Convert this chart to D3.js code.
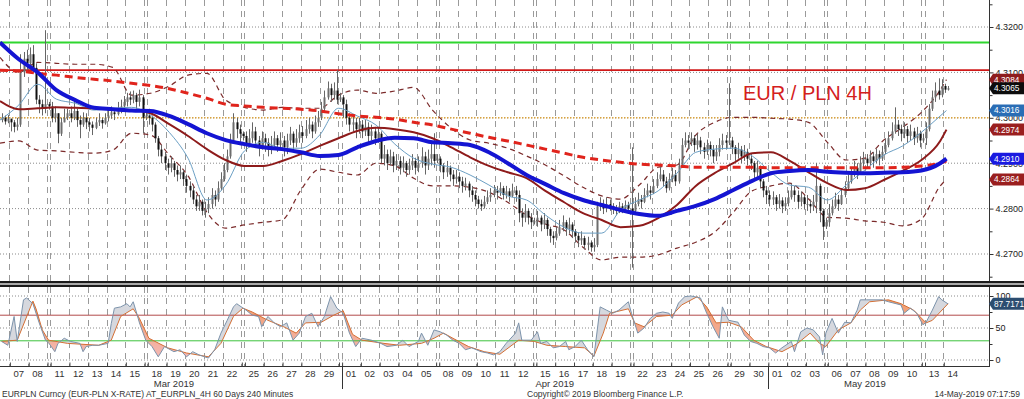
<!DOCTYPE html>
<html>
<head>
<meta charset="utf-8">
<script src="https://cdn.jsdelivr.net/npm/d3@7"></script>
<style>
body { margin: 0; background: #fff; }
svg { display: block; font-family: "Liberation Sans", Arial, sans-serif; }
</style>
</head>
<body>
<svg width="1024" height="399"></svg>
<script>
/* DATA */
// trading days shown (first one only partly visible)
var days = ["2019-03-06","2019-03-07","2019-03-08","2019-03-11","2019-03-12","2019-03-13","2019-03-14","2019-03-15",
	"2019-03-18","2019-03-19","2019-03-20","2019-03-21","2019-03-22","2019-03-25","2019-03-26","2019-03-27","2019-03-28","2019-03-29",
	"2019-04-01","2019-04-02","2019-04-03","2019-04-04","2019-04-05","2019-04-08","2019-04-09","2019-04-10","2019-04-11","2019-04-12",
	"2019-04-15","2019-04-16","2019-04-17","2019-04-18","2019-04-19","2019-04-22","2019-04-23","2019-04-24","2019-04-25","2019-04-26",
	"2019-04-29","2019-04-30","2019-05-01","2019-05-02","2019-05-03","2019-05-06","2019-05-07","2019-05-08","2019-05-09","2019-05-10",
	"2019-05-13","2019-05-14"];
var monthLabels = ["Mar 2019", "Apr 2019", "May 2019"];

// 4H candles, prices in pips above 4.2700 (one line per day, the Sunday bar on its own)
var base = 4.27;
var open0 = 295;
var closes = [300,292,298,
	290,280,285,400,430,420, 440,410,340,330,320,330, 325,
	300,310,265,290,300,310, 300,315,295,285,300,290, 285,278,290,295,288,300, 305,312,308,320,325,335, 345,340,350,335,345,300, 305,
	300,285,255,230,215,200, 190,200,185,175,180,165, 150,140,120,105,115,95, 100,110,130,120,145,165, 185,215,250,290,275,265, 260,
	240,255,270,250,235,255, 245,230,240,255,240,250, 235,250,265,245,255,268, 260,275,285,270,290,300, 320,345,365,350,360,340, 345,
	330,300,285,290,275,285, 270,280,260,270,255,265, 210,220,200,215,195,205, 190,200,185,195,205,190, 200,215,195,210,220,205, 210,
	195,180,190,175,165,170, 160,150,155,140,130,120, 110,105,115,125,130,140, 135,145,130,138,128,140, 130,90,80,95,80,70, 72,
	80,65,75,55,40,35, 45,60,70,55,65,50, 40,30,35,20,25,15, 20,105,110,100,110,105, 100,95,105,100,108,100, 95,
	110,120,115,130,140,135, 150,165,175,160,145,165, 175,160,195,240,250,245, 255,240,250,235,225,240, 230,215,225,240,250,245, 250,
	235,220,230,215,225,210, 200,180,190,160,140,130, 120,125,110,118,105,112, 125,140,130,115,125,110, 110,105,115,150,95,60, 70,
	90,105,120,110,130,145, 160,175,190,180,200,210, 200,215,205,220,210,225, 240,255,270,285,275,265, 275,260,270,255,265,250, 255,
	275,320,345,360,350,370, 362,365];
var highs = [310,305,306,
	298,295,300,440,445,450, 455,460,420,350,340,493, 335,
	335,325,310,300,320,320, 325,335,320,305,312,310, 300,292,300,310,300,310, 318,325,320,335,340,348, 355,358,360,355,362,350, 315,
	320,305,290,260,240,225, 210,215,205,195,195,185, 175,160,150,130,130,120, 115,125,145,140,160,180, 200,230,265,310,300,285, 270,
	270,275,290,280,260,270, 265,255,260,270,262,268, 260,265,280,270,275,285, 282,295,300,292,305,315, 335,360,380,375,378,405, 355,
	350,340,310,305,300,300, 295,295,290,285,280,280, 270,240,230,230,225,220, 215,215,205,210,220,212, 215,235,225,230,245,266, 220,
	215,200,205,195,185,185, 180,170,168,160,150,140, 128,120,128,140,145,152, 150,158,150,150,145,155, 150,140,100,110,100,90, 80,
	95,85,90,80,60,50, 60,75,85,75,80,70, 55,48,50,40,38,30, 35,115,125,120,125,120, 112,108,115,112,118,115, 235,
	125,135,130,145,155,150, 165,180,195,185,170,178, 190,185,210,255,268,262, 268,262,265,258,245,252, 248,240,240,255,265,262, 376,
	258,240,245,238,240,232, 220,205,205,195,165,150, 140,138,130,132,125,125, 140,155,150,140,138,130, 130,120,130,200,155,100, 80,
	110,120,135,130,145,160, 175,190,205,200,215,225, 220,228,225,232,228,238, 255,270,290,323,295,285, 290,282,285,278,280,272, 265,
	290,330,360,378,387,385, 375,370];
var lows = [290,285,288,
	270,268,272,280,390,405, 415,400,330,310,305,310, 318,
	290,290,244,260,290,295, 290,295,280,255,280,275, 270,262,275,282,276,285, 292,298,295,305,310,318, 325,328,332,320,325,266, 295,
	285,270,245,215,200,185, 175,180,170,160,165,150, 135,125,110,95,95,85, 80,90,100,105,115,140, 160,180,210,245,255,240, 250,
	225,235,245,235,215,230, 225,215,220,230,225,232, 215,220,240,225,235,245, 245,255,265,255,265,280, 295,315,340,335,340,330, 335,
	300,285,270,270,255,265, 255,260,245,250,240,245, 200,195,185,195,180,185, 175,180,170,175,185,175, 180,190,175,185,195,190, 200,
	180,165,170,160,150,155, 145,135,140,125,115,105, 100,95,100,110,115,125, 120,128,120,122,115,125, 115,70,60,70,65,55, 65,
	60,50,55,40,25,20, 30,40,50,40,45,35, 25,15,20,10,8,5, 5,15,95,88,92,95, 88,85,90,90,95,90, -30,
	90,105,100,112,125,120, 132,145,160,150,135,140, 158,150,155,190,235,230, 238,225,230,220,210,218, 215,200,205,215,230,230, 240,
	220,205,210,200,205,195, 185,165,170,145,125,110, 105,108,95,100,90,95, 105,120,115,100,105,98, 95,90,95,90,70,31, 55,
	60,85,100,95,108,125, 140,155,170,165,180,190, 188,195,190,200,195,205, 220,235,250,265,260,248, 255,245,250,240,245,235, 245,
	240,270,315,335,340,345, 355,360];

// indicator lines sampled every 6 bars (last point on the final bar), pips above 4.2700
var maBlue = [466,429,400,361,339,322,319,316,315,304,286,266,251,242,235,231,224,216,218,235,249,256,255,246,244,240,
	224,200,174,154,134,119,108,97,88,84,95,106,121,141,161,178,183,185,181,179,178,179,180,184,200,210];
var maRedDash = [405,403,398,394,389,385,381,376,371,364,354,343,330,326,323,321,319,315,309,304,301,297,290,284,275,266,
	257,249,240,231,222,213,207,202,198,196,194,191,191,191,191,190,190,190,190,190,190,190,191,194,200,205];
var maMaroon = [337,319,321,323,322,321,319,317,310,286,260,231,207,194,194,205,220,238,255,271,278,275,268,255,235,213,
	194,180,167,139,114,90,75,59,62,79,108,150,178,200,222,224,205,180,156,141,145,163,183,207,249,274];
var maFast = [295,328,374,341,332,317,321,323,306,268,211,119,152,227,246,233,233,262,321,304,284,242,211,198,191,174,
	152,128,119,86,59,46,46,97,119,139,178,224,231,233,216,180,152,147,119,152,185,218,238,268,304,316];
var bandUpper = [433,400,422,420,418,418,411,350,354,370,394,398,339,323,317,323,321,321,350,361,354,359,367,317,277,251,
	244,233,216,196,172,147,128,121,152,191,196,262,290,301,301,299,297,290,246,207,211,251,279,312,361,384];
var bandLower = [244,249,229,227,224,222,229,266,262,218,172,92,57,64,70,75,141,187,180,174,200,194,167,150,150,147,
	136,114,86,66,53,15,-13,-7,-7,-2,13,26,48,92,139,150,156,121,81,79,73,70,62,77,150,164];

// horizontal levels
var levelGreen = 4.3166, levelRed = 4.3105, levelOrange = 4.3000;

// stochastic [bar, value]
var stochK = [[0,29],[2,23],[4,68],[5,29],[7,94],[8,97],[10,88],[12,58],[14,31],[15,27],[17,13],[18,26],[20,34],[22,29],
	[25,26],[26,13],[27,21],[29,23],[31,23],[34,26],[35,57],[36,81],[38,83],[40,88],[41,83],[42,91],[43,75],[44,58],[46,31],
	[48,21],[50,5],[52,21],[55,13],[57,16],[59,5],[61,13],[63,8],[66,3],[68,16],[70,42],[72,62],[74,83],[75,88],[78,78],
	[80,70],[82,68],[83,52],[85,68],[87,58],[89,52],[91,58],[93,31],[95,42],[97,68],[99,73],[101,52],[103,68],[105,99],
	[107,81],[109,73],[111,42],[113,21],[115,34],[118,31],[121,26],[123,21],[126,23],[128,31],[130,21],[133,29],[134,42],
	[136,23],[138,47],[140,44],[142,39],[144,31],[146,26],[148,16],[150,19],[153,13],[155,11],[157,8],[159,13],[161,26],
	[164,42],[165,58],[166,31],[169,31],[171,44],[172,26],[174,29],[176,19],[178,21],[180,29],[181,16],[183,21],[185,31],
	[187,16],[189,5],[191,83],[193,78],[195,73],[197,78],[200,91],[201,73],[203,42],[205,50],[207,65],[209,73],[211,75],
	[213,73],[214,65],[216,89],[218,99],[220,100],[223,97],[225,73],[227,52],[229,34],[230,83],[232,62],[235,59],[237,39],
	[239,29],[241,26],[243,21],[245,19],[247,11],[249,19],[252,29],[253,13],[255,44],[257,50],[259,47],[261,36],[262,8],
	[263,42],[265,65],[267,42],[269,59],[271,58],[273,78],[274,94],[276,94],[279,94],[281,94],[283,91],[287,86],[288,73],
	[290,81],[292,73],[294,55],[295,59],[297,78],[299,99],[300,94],[302,87.7171]];
var stochD = [[0,29],[5,31],[10,92],[11,80],[13,47],[15,31],[21,26],[31,23],[35,31],[38,68],[42,80],[44,65],[47,34],[53,19],
	[59,11],[66,5],[70,26],[74,68],[77,81],[80,75],[85,62],[90,52],[94,42],[97,58],[102,59],[106,70],[109,77],[112,40],
	[115,31],[122,26],[127,23],[134,26],[138,34],[141,42],[144,34],[149,21],[154,13],[159,9],[165,31],[170,29],[174,23],
	[180,21],[186,19],[189,6],[192,42],[194,73],[200,80],[202,58],[205,52],[209,68],[214,70],[217,86],[222,99],[225,83],
	[228,58],[232,59],[236,52],[240,31],[244,21],[249,13],[254,26],[258,42],[261,26],[263,21],[267,47],[271,58],[274,78],
	[277,91],[283,94],[287,88],[291,78],[295,58],[297,62],[302,88]];
var stochLevels = [70, 30];

// axis ticks
var priceTicks = [4.27, 4.28, 4.29, 4.30, 4.31, 4.32];
var priceMinor = [4.265, 4.275, 4.285, 4.295, 4.305, 4.315, 4.325];
var stochTicks = [0, 50, 100];

/* LAYOUT */
var svg = d3.select("svg");
var axisX = 989;
var mainTop = 0, mainBottom = 281;
var lowTop = 287, lowBottom = 366;
var barsPerDay = 6;

var x = d3.scaleLinear().domain([0, 1]).range([0, 3.134]);
var y = d3.scaleLinear().domain([4.27, 4.32]).range([254, 27]);
var yS = d3.scaleLinear().domain([0, 100]).range([360, 296]);
var px = function (v) { return base + v / 10000; };

// bar index of every day start (a Sunday bar sits before each Monday)
var parseDay = d3.timeParse("%Y-%m-%d");
var cursor = -3;
var dayInfo = days.map(function (s, k) {
	var dt = parseDay(s);
	var sunday = null;
	if (k > 0 && dt.getDay() === 1) { sunday = cursor; cursor += 1; }
	var start = cursor;
	cursor += barsPerDay;
	return { dt: dt, start: start, sunday: sunday };
});
var boundaries = [];
dayInfo.forEach(function (d, k) {
	if (k === 0) return;
	if (d.sunday !== null) boundaries.push(d.sunday);
	boundaries.push(d.start);
});

var bars = closes.map(function (c, i) {
	var o = i ? closes[i - 1] : open0;
	return { i: i, o: px(o), c: px(c), h: px(Math.max(highs[i], o, c)), l: px(Math.min(lows[i], o, c)) };
});
var sampleBars = d3.range(0, closes.length - 2, 6).concat([closes.length - 1]);
function series(vals) {
	return vals.map(function (v, k) { return { bar: sampleBars[k], v: px(v) }; });
}

var defs = svg.append("defs");
defs.append("clipPath").attr("id", "clipMain").append("rect")
	.attr("x", 0).attr("y", mainTop).attr("width", axisX).attr("height", mainBottom - mainTop);
defs.append("clipPath").attr("id", "clipLow").append("rect")
	.attr("x", 0).attr("y", lowTop).attr("width", axisX).attr("height", lowBottom - lowTop);

/* GRID */
var grid = svg.append("g");
grid.selectAll("line.hg").data(priceTicks).enter().append("line")
	.attr("x1", 0).attr("x2", axisX).attr("y1", function (d) { return y(d); }).attr("y2", function (d) { return y(d); })
	.attr("stroke", "#8a8a8a").attr("stroke-dasharray", "1,2");
grid.selectAll("line.hs").data(stochTicks).enter().append("line")
	.attr("x1", 0).attr("x2", axisX).attr("y1", function (d) { return yS(d); }).attr("y2", function (d) { return yS(d); })
	.attr("stroke", "#8a8a8a").attr("stroke-dasharray", "1,2");
[[mainTop, mainBottom], [lowTop, lowBottom]].forEach(function (r) {
	grid.selectAll(null).data(boundaries).enter().append("line")
		.attr("x1", function (d) { return Math.round(x(d)) + 0.5; }).attr("x2", function (d) { return Math.round(x(d)) + 0.5; })
		.attr("y1", r[0]).attr("y2", r[1])
		.attr("stroke", "#9a9a9a").attr("stroke-dasharray", "6,5");
});

/* MAIN PANEL */
var mainG = svg.append("g").attr("clip-path", "url(#clipMain)");

mainG.append("line").attr("x1", 0).attr("x2", axisX).attr("y1", y(levelGreen)).attr("y2", y(levelGreen))
	.attr("stroke", "#2fd62f").attr("stroke-width", 2);
mainG.append("line").attr("x1", 0).attr("x2", axisX).attr("y1", y(levelRed)).attr("y2", y(levelRed))
	.attr("stroke", "#d01818").attr("stroke-width", 1.6);
mainG.append("line").attr("x1", 0).attr("x2", axisX).attr("y1", y(levelOrange)).attr("y2", y(levelOrange))
	.attr("stroke", "#d9a441").attr("stroke-width", 1.5).attr("stroke-dasharray", "1.5,1.5");

var lineGen = d3.line()
	.x(function (d) { return x(d.bar); })
	.y(function (d) { return y(d.v); })
	.curve(d3.curveMonotoneX);

[bandUpper, bandLower].forEach(function (b) {
	mainG.append("path").attr("d", lineGen(series(b)))
		.attr("fill", "none").attr("stroke", "#7b2a2a").attr("stroke-width", 1.2).attr("stroke-dasharray", "5,4");
});

// candles
var candle = mainG.append("g").selectAll("g").data(bars).enter().append("g");
candle.append("line")
	.attr("x1", function (d) { return Math.round(x(d.i + 0.5)) + 0.5; })
	.attr("x2", function (d) { return Math.round(x(d.i + 0.5)) + 0.5; })
	.attr("y1", function (d) { return y(d.h); }).attr("y2", function (d) { return y(d.l); })
	.attr("stroke", "#666");
candle.append("rect")
	.attr("x", function (d) { return Math.round(x(d.i + 0.5)) - 0.5; })
	.attr("width", 2)
	.attr("y", function (d) { return y(Math.max(d.o, d.c)); })
	.attr("height", function (d) { return Math.max(1, Math.abs(y(d.o) - y(d.c))); })
	.attr("fill", function (d) { return d.c >= d.o ? "#6e6e6e" : "#111"; });

mainG.append("path").attr("d", lineGen(series(maFast)))
	.attr("fill", "none").attr("stroke", "#6b9fc4").attr("stroke-width", 1);
mainG.append("path").attr("d", lineGen(series(maMaroon)))
	.attr("fill", "none").attr("stroke", "#8e1b1b").attr("stroke-width", 2);
mainG.append("path").attr("d", lineGen(series(maRedDash)))
	.attr("fill", "none").attr("stroke", "#e0241c").attr("stroke-width", 3).attr("stroke-dasharray", "8,5");
mainG.append("path").attr("d", lineGen(series(maBlue)))
	.attr("fill", "none").attr("stroke", "#1414d2").attr("stroke-width", 4);

svg.append("text").attr("x", 743).attr("y", 100)
	.attr("font-size", 20).attr("fill", "#d4201c")
	.text("EUR / PLN 4H");

/* STOCHASTIC PANEL */
var lowG = svg.append("g").attr("clip-path", "url(#clipLow)");
var grad = defs.append("linearGradient").attr("id", "stochFill")
	.attr("gradientUnits", "userSpaceOnUse").attr("x1", 0).attr("x2", 0).attr("y1", yS(100)).attr("y2", yS(0));
grad.append("stop").attr("offset", "0%").attr("stop-color", "#f19a66");
grad.append("stop").attr("offset", "100%").attr("stop-color", "#f4b9b7");

var sx = function (d) { return x(d[0] + 0.5); };
var toTop = function (data) {
	return d3.area().x(sx).y0(lowTop).y1(function (d) { return yS(d[1]); })(data);
};
var toBottom = function (data) {
	return d3.area().x(sx).y0(lowBottom).y1(function (d) { return yS(d[1]); })(data);
};
defs.append("clipPath").attr("id", "aboveD").append("path").attr("d", toTop(stochD));
defs.append("clipPath").attr("id", "aboveK").append("path").attr("d", toTop(stochK));

lowG.append("path").attr("d", toBottom(stochK)).attr("clip-path", "url(#aboveD)").attr("fill", "#d6d8de");
lowG.append("path").attr("d", toBottom(stochD)).attr("clip-path", "url(#aboveK)").attr("fill", "url(#stochFill)");

lowG.selectAll("line.lv").data(stochLevels).enter().append("line")
	.attr("x1", 0).attr("x2", axisX)
	.attr("y1", function (d) { return yS(d); }).attr("y2", function (d) { return yS(d); })
	.attr("stroke", function (d) { return d > 50 ? "#b24a4a" : "#3cc23c"; }).attr("stroke-width", 1);

var sLine = d3.line().x(sx).y(function (d) { return yS(d[1]); });
lowG.append("path").attr("d", sLine(stochD)).attr("fill", "none").attr("stroke", "#d46f34").attr("stroke-width", 1);
lowG.append("path").attr("d", sLine(stochK)).attr("fill", "none").attr("stroke", "#7c93ab").attr("stroke-width", 1);

/* SEPARATOR */
svg.append("rect").attr("x", 0).attr("y", 281).attr("width", 1024).attr("height", 2).attr("fill", "#1c1c1c");
svg.append("rect").attr("x", 0).attr("y", 283).attr("width", 1024).attr("height", 2).attr("fill", "#a9a9a9");
svg.append("rect").attr("x", 0).attr("y", 285).attr("width", 1024).attr("height", 2).attr("fill", "#1c1c1c");

/* RIGHT AXES */
var fontFam = "Liberation Sans, Arial, sans-serif";
svg.append("line").attr("x1", axisX + 0.5).attr("x2", axisX + 0.5).attr("y1", mainTop).attr("y2", mainBottom).attr("stroke", "#333");
svg.append("line").attr("x1", axisX + 0.5).attr("x2", axisX + 0.5).attr("y1", lowTop).attr("y2", lowBottom).attr("stroke", "#333");

var gy = svg.append("g").attr("transform", "translate(" + (axisX + 0.5) + ",0)")
	.call(d3.axisRight(y).tickValues(priceTicks).tickSize(4).tickPadding(2).tickFormat(d3.format(".4f")));
var gyMinor = svg.append("g").attr("transform", "translate(" + (axisX + 0.5) + ",0)")
	.call(d3.axisRight(y).tickValues(priceMinor).tickSize(3).tickFormat(""));
var gs = svg.append("g").attr("transform", "translate(" + (axisX + 0.5) + ",0)")
	.call(d3.axisRight(yS).tickValues(stochTicks).tickSize(4).tickPadding(2));
var gsMinor = svg.append("g").attr("transform", "translate(" + (axisX + 0.5) + ",0)")
	.call(d3.axisRight(yS).tickValues([25, 75]).tickSize(3).tickFormat(""));
[gy, gyMinor, gs, gsMinor].forEach(function (g) {
	g.select(".domain").remove();
	g.attr("font-size", 9).attr("font-family", fontFam);
	g.selectAll("line").attr("stroke", "#333");
	g.selectAll("text").attr("fill", "#222");
});

/* VALUE TAGS */
var last = closes.length - 1;
var tags = [
	{ v: px(bandUpper[bandUpper.length - 1]), fill: "#8e1d1d", s: y },
	{ v: px(closes[last]), fill: "#0c0c0c", s: y },
	{ v: px(maFast[maFast.length - 1]), fill: "#2a6db5", s: y },
	{ v: px(maMaroon[maMaroon.length - 1]), fill: "#9a1f1f", s: y },
	{ v: px(maBlue[maBlue.length - 1]), fill: "#1a1ae0", s: y },
	{ v: px(bandLower[bandLower.length - 1]), fill: "#9a1f1f", s: y },
	{ v: stochK[stochK.length - 1][1], fill: "#2c4d70", s: yS }
];
var tag = svg.append("g").selectAll("g").data(tags).enter().append("g")
	.attr("transform", function (d) { return "translate(" + axisX + "," + d.s(d.v) + ")"; });
tag.append("path").attr("d", "M0,0L4,-6H35V6H4Z").attr("fill", function (d) { return d.fill; });
tag.append("text").attr("x", 5).attr("dy", "0.35em")
	.attr("font-size", 8.3).attr("font-family", fontFam).attr("fill", "#fff")
	.text(function (d) { return d3.format(".4f")(d.v); });

/* BOTTOM AXIS */
svg.append("line").attr("x1", 0).attr("x2", axisX + 1).attr("y1", lowBottom + 0.5).attr("y2", lowBottom + 0.5).attr("stroke", "#333");
var gx = svg.append("g").attr("transform", "translate(0," + (lowBottom + 0.5) + ")")
	.call(d3.axisBottom(x).tickValues(boundaries).tickSize(-4).tickFormat(""));
gx.select(".domain").remove();
gx.selectAll("line").attr("stroke", "#444").attr("transform", "translate(0.5,0)");

var fmtDay = d3.timeFormat("%d");
svg.append("g").selectAll("text").data(dayInfo.slice(1)).enter().append("text")
	.attr("x", function (d) { return x(d.start + barsPerDay / 2); })
	.attr("y", 377)
	.attr("text-anchor", "middle").attr("font-size", 9.5).attr("fill", "#333")
	.text(function (d) { return fmtDay(d.dt); });

// month labels and separators
var months = d3.groups(dayInfo.slice(1), function (d) { return d.dt.getMonth(); });
months.forEach(function (m, k) {
	var list = m[1];
	var cx = (x(list[0].start + 3) + x(list[list.length - 1].start + 3)) / 2;
	svg.append("text").attr("x", cx).attr("y", 387).attr("text-anchor", "middle")
		.attr("font-size", 9.5).attr("fill", "#333").text(monthLabels[k]);
	if (k > 0) {
		var mx = Math.round(x(list[0].start)) + 0.5;
		svg.append("line").attr("x1", mx).attr("x2", mx).attr("y1", lowBottom).attr("y2", 389).attr("stroke", "#333");
	}
});

/* FOOTER */
svg.append("text").attr("x", 2).attr("y", 397).attr("font-size", 8.5).attr("fill", "#333")
	.text("EURPLN Curncy (EUR-PLN X-RATE) AT_EURPLN_4H 60 Days 240 Minutes");
svg.append("text").attr("x", 527).attr("y", 397).attr("font-size", 8.5).attr("fill", "#333")
	.text("Copyright\u00a9 2019 Bloomberg Finance L.P.");
svg.append("text").attr("x", 1020).attr("y", 397).attr("font-size", 8.5).attr("fill", "#333").attr("text-anchor", "end")
	.text("14-May-2019 07:17:59");
</script>
</body>
</html>
